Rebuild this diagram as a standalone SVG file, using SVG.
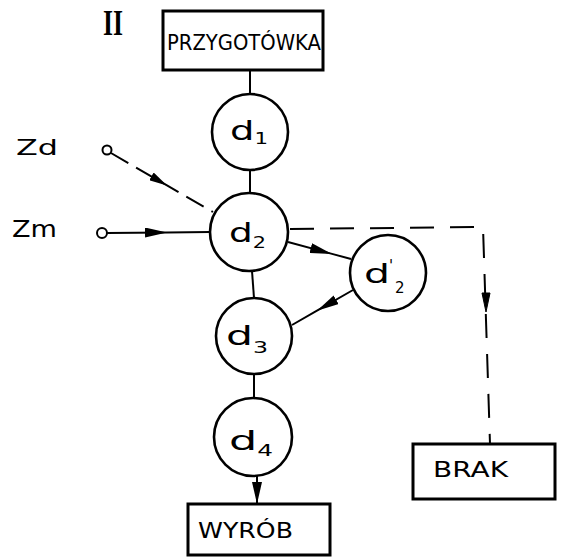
<svg xmlns="http://www.w3.org/2000/svg" width="566" height="557" viewBox="0 0 566 557">
  <defs>
    <marker id="arrow" viewBox="0 0 22 10" refX="22" refY="5" markerWidth="22" markerHeight="10" markerUnits="userSpaceOnUse" orient="auto">
      <path d="M0,0 L22,5 L0,10 Z" fill="#000"/>
    </marker>
    <marker id="arrow-small" viewBox="0 0 18 9" refX="18" refY="4.5" markerWidth="18" markerHeight="9" markerUnits="userSpaceOnUse" orient="auto">
      <path d="M0,0 L18,4.5 L0,9 Z" fill="#000"/>
    </marker>
  </defs>
  <style>
    .box { fill: #fff; stroke: #000; stroke-width: 3; }
    .node { fill: #fff; stroke: #000; stroke-width: 2.6; }
    .term { fill: #fff; stroke: #000; stroke-width: 2; }
    .line { fill: none; stroke: #000; stroke-width: 2; }
    .dash { fill: none; stroke: #000; stroke-width: 2; stroke-dasharray: 24 16; }
    .dash-short { fill: none; stroke: #000; stroke-width: 2; stroke-dasharray: 20 9; }
    .label { font-family: "DejaVu Sans", "Liberation Sans", sans-serif; fill: #000; }
    .caps { font-size: 21px; }
    .sym { font-size: 27px; }
    .sub { font-size: 15px; }
    .roman { font-family: "Liberation Serif", "DejaVu Serif", serif; font-size: 36px; font-weight: bold; fill: #000; }
  </style>

  <rect width="566" height="557" fill="#fff"/>

  <!-- section number -->
  <text class="roman" x="103" y="35" textLength="20" lengthAdjust="spacingAndGlyphs">II</text>

  <!-- connectors -->
  <g id="connectors">
    <line class="line" x1="250" y1="70" x2="250" y2="94"/>
    <line class="line" x1="250" y1="170" x2="250" y2="193"/>
    <line class="line" x1="252" y1="271" x2="254" y2="298"/>
    <line class="line" x1="254" y1="374" x2="254" y2="398"/>
    <!-- Zd input (dashed) -->
    <polyline class="dash-short" points="111,153 167,185.4 213,212" marker-mid="url(#arrow-small)"/>
    <!-- Zm input -->
    <polyline class="line" points="107,233 167,232.4 210,232" marker-mid="url(#arrow)"/>
    <!-- d2 to d2' -->
    <polyline class="line" points="288,242 332,253.9 351,259" marker-mid="url(#arrow)"/>
    <!-- d2' to d3 -->
    <polyline class="line" points="353,290 317,310.7 292,325" marker-mid="url(#arrow)"/>
    <!-- d4 to WYROB -->
    <line class="line" x1="257" y1="476" x2="257" y2="504" marker-end="url(#arrow)"/>
    <!-- reject path to BRAK (dashed) -->
    <path class="dash" d="M290,229 L483,227 L490,444"/>
    <path d="M482,293 L490,293 L486,312 Z" fill="#000" stroke="#000" stroke-width="1"/>
  </g>

  <!-- inputs -->
  <g id="input-zd">
    <circle class="term" cx="107" cy="150" r="4.5"/>
    <text class="label" x="16" y="155" font-size="21" textLength="42" lengthAdjust="spacingAndGlyphs">Zd</text>
  </g>
  <g id="input-zm">
    <circle class="term" cx="102" cy="233" r="5"/>
    <text class="label" x="12" y="237" font-size="23" textLength="45" lengthAdjust="spacingAndGlyphs">Zm</text>
  </g>

  <!-- blocks -->
  <g id="przygotowka">
    <rect class="box" x="163" y="11" width="160" height="59"/>
    <text class="label caps" x="167" y="50" textLength="154" lengthAdjust="spacingAndGlyphs">PRZYGOTÓWKA</text>
  </g>
  <g id="wyrob">
    <rect class="box" x="188" y="504" width="142" height="51"/>
    <text class="label caps" x="198" y="538" font-size="22" textLength="95" lengthAdjust="spacingAndGlyphs">WYRÓB</text>
  </g>
  <g id="brak">
    <rect class="box" x="413" y="444" width="142" height="55"/>
    <text class="label caps" x="433" y="477" font-size="22" textLength="75" lengthAdjust="spacingAndGlyphs">BRAK</text>
  </g>

  <!-- operations -->
  <g id="d1">
    <circle class="node" cx="250" cy="132" r="38"/>
    <text class="label sym" x="230" y="140" textLength="38" lengthAdjust="spacingAndGlyphs">d<tspan class="sub" dy="4">1</tspan></text>
  </g>
  <g id="d2">
    <circle class="node" cx="249" cy="232" r="39"/>
    <text class="label sym" x="229" y="242" textLength="37" lengthAdjust="spacingAndGlyphs">d<tspan class="sub" dy="6">2</tspan></text>
  </g>
  <g id="d2p">
    <circle class="node" cx="388" cy="273" r="38"/>
    <text class="label sym" x="364" y="283" textLength="26" lengthAdjust="spacingAndGlyphs">d</text>
    <text class="label sub" x="389" y="271">'</text>
    <text class="label sub" x="395" y="293">2</text>
  </g>
  <g id="d3">
    <circle class="node" cx="254" cy="336" r="38"/>
    <text class="label sym" x="226" y="345" textLength="42" lengthAdjust="spacingAndGlyphs">d<tspan class="sub" dy="8">3</tspan></text>
  </g>
  <g id="d4">
    <circle class="node" cx="253" cy="437" r="39"/>
    <text class="label sym" x="229" y="450" textLength="44" lengthAdjust="spacingAndGlyphs">d<tspan class="sub" dy="6">4</tspan></text>
  </g>
</svg>
